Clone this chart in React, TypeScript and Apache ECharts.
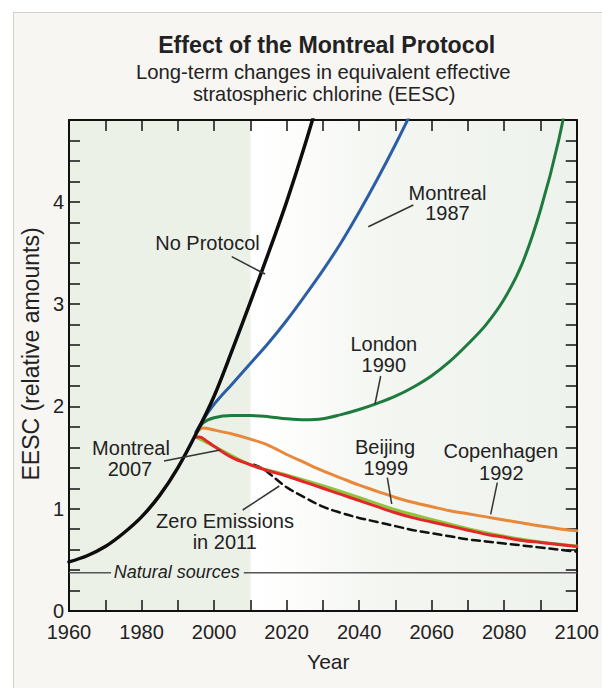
import React, { useEffect, useRef } from "react";
import * as echarts from "echarts";

// ---------- DATA ----------
const xTicksMin = 1960;
const xTicksMax = 2100;
const yMin = 0;
const yMax = 4.8;

const noProtocolYears = [1960, 1965, 1970, 1975, 1980, 1985, 1990, 1995, 2000, 2005, 2010, 2015, 2020, 2025, 2030];
const noProtocolValues = [0.48, 0.54, 0.63, 0.76, 0.92, 1.13, 1.4, 1.73, 2.1, 2.55, 3.02, 3.5, 4.0, 4.55, 5.15];

const montreal1987Years = [1995, 1997, 2000, 2005, 2010, 2015, 2020, 2025, 2030, 2035, 2040, 2045, 2050, 2055];
const montreal1987Values = [1.75, 1.87, 2.02, 2.22, 2.42, 2.62, 2.84, 3.08, 3.33, 3.6, 3.9, 4.22, 4.56, 4.92];

const london1990Years = [1995, 1997, 2000, 2005, 2010, 2015, 2020, 2025, 2030, 2035, 2040, 2045, 2050, 2055, 2060, 2065, 2070, 2075, 2080, 2085, 2090, 2095, 2100];
const london1990Values = [1.74, 1.84, 1.89, 1.91, 1.91, 1.9, 1.88, 1.87, 1.88, 1.92, 1.97, 2.03, 2.1, 2.19, 2.3, 2.44, 2.61, 2.8, 3.05, 3.4, 3.92, 4.6, 5.5];

const copenhagen1992Years = [1995, 1997, 2000, 2005, 2010, 2015, 2020, 2025, 2030, 2035, 2040, 2045, 2050, 2055, 2060, 2065, 2070, 2075, 2080, 2085, 2090, 2095, 2100];
const copenhagen1992Values = [1.74, 1.79, 1.77, 1.73, 1.68, 1.62, 1.53, 1.45, 1.37, 1.3, 1.23, 1.17, 1.11, 1.06, 1.02, 0.98, 0.95, 0.92, 0.89, 0.86, 0.83, 0.805, 0.785];

const beijing1999Years = [1995, 2000, 2010, 2020, 2030, 2040, 2050, 2060, 2070, 2080, 2090, 2100];
const beijing1999Values = [1.7, 1.61, 1.43, 1.33, 1.225, 1.11, 0.99, 0.895, 0.805, 0.73, 0.675, 0.635];

const montreal2007Years = [1995, 1996, 1998, 2000, 2005, 2010, 2015, 2020, 2025, 2030, 2035, 2040, 2045, 2050, 2055, 2060, 2065, 2070, 2075, 2080, 2085, 2090, 2095, 2100];
const montreal2007Values = [1.7, 1.7, 1.66, 1.61, 1.5, 1.43, 1.37, 1.32, 1.26, 1.2, 1.14, 1.08, 1.02, 0.96, 0.91, 0.87, 0.83, 0.79, 0.75, 0.72, 0.69, 0.67, 0.65, 0.63];

const zeroEmissionsYears = [2011, 2013, 2015, 2020, 2025, 2030, 2035, 2040, 2045, 2050, 2055, 2060, 2065, 2070, 2075, 2080, 2085, 2090, 2095, 2100];
const zeroEmissionsValues = [1.43, 1.4, 1.35, 1.21, 1.11, 1.02, 0.96, 0.91, 0.87, 0.83, 0.79, 0.76, 0.73, 0.7, 0.68, 0.66, 0.64, 0.62, 0.6, 0.58];

const naturalSourcesLevel = 0.375;

// ---------- HELPERS ----------
const zip = (xs: number[], ys: number[]) => xs.map((x, i) => [x, ys[i]]);
const FONT = "'Liberation Sans', Arial, Helvetica, sans-serif";
const TEXT = "#222";

function label(text: string, x: number, y: number, extra: any = {}) {
  return {
    type: "text",
    x,
    y,
    z: 100,
    scaleX: extra.scaleX ?? 1,
    rotation: extra.rotation ?? 0,
    style: {
      text,
      fill: TEXT,
      fontSize: extra.fontSize ?? 20,
      fontFamily: FONT,
      fontWeight: extra.fontWeight ?? "normal",
      fontStyle: extra.fontStyle ?? "normal",
      align: "center",
      verticalAlign: "middle",
    },
  };
}
function pointer(x1: number, y1: number, x2: number, y2: number) {
  return {
    type: "line",
    z: 100,
    shape: { x1, y1, x2, y2 },
    style: { stroke: "#333", lineWidth: 1.5 },
  };
}

function lineSeries(name: string, data: number[][], color: string, width: number, extra: any = {}) {
  return {
    name,
    type: "line",
    data,
    smooth: 0.35,
    showSymbol: false,
    symbol: "none",
    clip: true,
    lineStyle: { color, width, type: extra.dash ?? "solid", cap: "round" },
    z: extra.z ?? 2,
  };
}

export default function App() {
  const ref = useRef<HTMLDivElement>(null);
  useEffect(() => {
    const chart = echarts.init(ref.current!, null, { renderer: "svg" });
    const axisCommon = {
      axisLine: { show: true, onZero: false, lineStyle: { color: "#111", width: 2 } },
      axisTick: { show: true, inside: true, length: 11, lineStyle: { color: "#111", width: 1.5 } },
      splitLine: { show: false },
    };
    const xAxisBase = {
      type: "value",
      min: xTicksMin,
      max: xTicksMax,
      interval: 10,
      ...axisCommon,
    };
    const yAxisBase = {
      type: "value",
      min: yMin,
      max: yMax,
      interval: 0.2,
      ...axisCommon,
    };
    const option: any = {
      animation: false,
      grid: {
        left: 69,
        right: 16,
        top: 120,
        bottom: 77,
        show: true,
        borderWidth: 0,
        backgroundColor: new echarts.graphic.LinearGradient(0, 0, 1, 0, [
          { offset: 0, color: "#ecf1e8" },
          { offset: 0.357, color: "#ecf1e8" },
          { offset: 0.358, color: "#ffffff" },
          { offset: 0.44, color: "#fdfdfc" },
          { offset: 0.62, color: "#f3f6f1" },
          { offset: 1, color: "#eef2ec" },
        ]),
      },
      xAxis: [
        {
          ...xAxisBase,
          position: "bottom",
          axisLabel: {
            show: true,
            margin: 11,
            color: TEXT,
            fontSize: 20,
            lineHeight: 20,
            fontFamily: FONT,
            formatter: (v: number) => (v % 20 === 0 ? String(v) : ""),
          },
        },
        { ...xAxisBase, position: "top", axisLabel: { show: false } },
      ],
      yAxis: [
        {
          ...yAxisBase,
          position: "left",
          axisLabel: {
            show: true,
            margin: 5,
            color: TEXT,
            fontSize: 20,
            lineHeight: 16,
            padding: [0, 0, 4, 0],
            fontFamily: FONT,
            formatter: (v: number) => (Math.abs(v - Math.round(v)) < 1e-6 ? String(Math.round(v)) : ""),
          },
        },
        { ...yAxisBase, position: "right", axisLabel: { show: false } },
      ],
      series: [
        {
          name: "Natural sources left",
          type: "line",
          data: [[xTicksMin, naturalSourcesLevel], [1971.6, naturalSourcesLevel]],
          showSymbol: false,
          symbol: "none",
          lineStyle: { color: "#555", width: 1.5 },
          z: 1,
        },
        {
          name: "Natural sources right",
          type: "line",
          data: [[2008.2, naturalSourcesLevel], [xTicksMax, naturalSourcesLevel]],
          showSymbol: false,
          symbol: "none",
          lineStyle: { color: "#555", width: 1.5 },
          z: 1,
        },
        lineSeries("Zero Emissions in 2011", zip(zeroEmissionsYears, zeroEmissionsValues), "#111", 2.5, { dash: [8, 5], z: 2 }),
        lineSeries("London 1990", zip(london1990Years, london1990Values), "#1f7a3d", 3, { z: 3 }),
        lineSeries("Montreal 1987", zip(montreal1987Years, montreal1987Values), "#2c5ea6", 3, { z: 3 }),
        lineSeries("Copenhagen 1992", zip(copenhagen1992Years, copenhagen1992Values), "#e8883a", 3, { z: 4 }),
        lineSeries("Beijing 1999", zip(beijing1999Years, beijing1999Values), "#8fc440", 3, { z: 4 }),
        lineSeries("Montreal 2007", zip(montreal2007Years, montreal2007Values), "#e32626", 3, { z: 5 }),
        lineSeries("No Protocol", zip(noProtocolYears, noProtocolValues), "#0d0d0d", 3.5, { z: 6 }),
      ],
      graphic: [
        label("Effect of the Montreal Protocol", 326.7, 44.7, { fontSize: 24, fontWeight: "bold", scaleX: 0.965 }),
        label("Long-term changes in equivalent effective", 323.3, 71.5, { fontSize: 21, scaleX: 0.965 }),
        label("stratospheric chlorine (EESC)", 324.2, 93.5, { fontSize: 21, scaleX: 0.95 }),
        label("EESC (relative amounts)", 31.3, 354, { fontSize: 23, rotation: Math.PI / 2 }),
        label("Year", 328.3, 661.7, { fontSize: 21 }),
        label("No Protocol", 207.5, 243.3),
        pointer(231.7, 256.7, 265, 274),
        label("Montreal", 447.5, 192.5),
        label("1987", 447.5, 213),
        pointer(413.3, 205, 368.3, 226.7),
        label("London", 383.8, 343.7),
        label("1990", 383.8, 365),
        pointer(380.7, 376, 375, 404),
        label("Montreal", 131, 447.5),
        label("2007", 130, 469),
        pointer(164, 461, 220, 450),
        label("Zero Emissions", 225, 521),
        label("in 2011", 224.7, 542),
        pointer(242.7, 510, 279.3, 486),
        label("Beijing", 385, 447),
        label("1999", 385.8, 468),
        pointer(387.3, 477.7, 391.7, 504),
        label("Copenhagen", 500.8, 451),
        label("1992", 501.3, 472.5),
        pointer(497.3, 482.7, 490.7, 514.3),
        label("Natural sources", 176.7, 572, { fontSize: 18, fontStyle: "italic" }),
      ],
    };
    chart.setOption(option);
    return () => chart.dispose();
  }, []);

  return (
    <div style={{ position: "fixed", left: 0, top: 0, width: 602, height: 688, background: "#ffffff", overflow: "hidden" }}>
      <div
        style={{
          position: "absolute",
          left: 13,
          top: 12,
          right: 0,
          bottom: 0,
          background: "#f8f6f3",
          borderTop: "1px solid #d5d1cc",
          borderLeft: "1px solid #d5d1cc",
        }}
      />
      <div ref={ref} style={{ position: "absolute", left: 0, top: 0, width: 602, height: 688 }} />
    </div>
  );
}
